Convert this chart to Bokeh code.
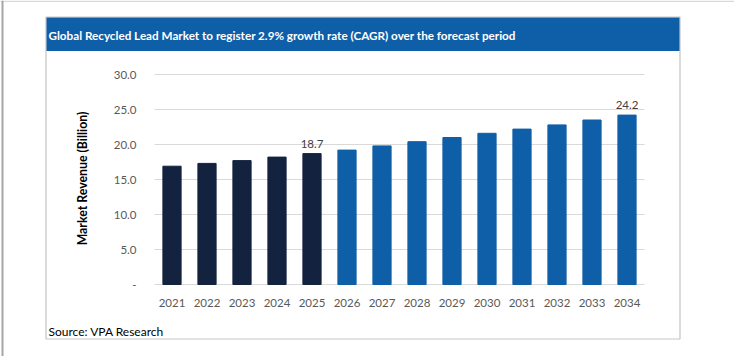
from bokeh.plotting import figure
from bokeh.models import (Range1d, ColumnDataSource, LabelSet, Label,
                          BoxAnnotation, FixedTicker)
from bokeh.core.properties import value
from bokeh.embed import file_html
from bokeh.resources import INLINE

years = ["2021", "2022", "2023", "2024", "2025", "2026", "2027",
         "2028", "2029", "2030", "2031", "2032", "2033", "2034"]
revenue = [16.9, 17.3, 17.7, 18.2, 18.7, 19.2, 19.8,
           20.4, 21.0, 21.6, 22.2, 22.8, 23.5, 24.2]
labelled_years = ["2025", "2034"]
y_ticks = [0, 5, 10, 15, 20, 25, 30]
y_tick_labels = ["-", "5.0", "10.0", "15.0", "20.0", "25.0", "30.0"]
title_text = "Global Recycled Lead Market to register 2.9% growth rate (CAGR) over the forecast period"
source_text = "Source: VPA Research"
y_label = "Market Revenue (Billion)"

DARK = "#13233F"
BLUE = "#0F5EA8"
FONT = "Lato"

W, H = 734, 356
# plot-area geometry in pixels (from top-left)
PL, PR, PT, PB = 154, 644, 74, 284
n = len(years)
step = (PR - PL) / n
ymax = y_ticks[-1]
ppu = (PB - PT) / ymax

idx = list(range(n))
colors = [DARK if int(y) <= 2025 else BLUE for y in years]
labels = [f"{v:.1f}" if y in labelled_years else "" for y, v in zip(years, revenue)]
src = ColumnDataSource(dict(x=idx, value=revenue, color=colors, label=labels))

x_range = Range1d(-0.5 - PL / step, -0.5 + (W - PL) / step)
y_range = Range1d(-(H - PB) / ppu, ymax + PT / ppu)

p = figure(width=W, height=H, x_range=x_range, y_range=y_range,
           output_backend="svg", toolbar_location=None,
           min_border=0, min_border_left=0, min_border_right=0,
           min_border_top=0, min_border_bottom=0,
           background_fill_color="white", border_fill_color="white",
           outline_line_color=None)
p.extra_x_ranges = {"px": Range1d(0, W)}
p.extra_y_ranges = {"px": Range1d(H, 0)}

p.xgrid.grid_line_color = None
p.ygrid.grid_line_color = None

# grid lines across the plot area, one per y tick
p.segment(x0=[-0.5] * len(y_ticks), x1=[n - 0.5] * len(y_ticks),
          y0=y_ticks, y1=y_ticks, line_color="#D9D9D9", line_width=1)

p.vbar(x="x", top="value", width=0.52, color="color", source=src)

p.add_layout(LabelSet(x="x", y="value", text="label", source=src,
                      text_align="center", text_baseline="bottom", y_offset=6,
                      text_font=value(FONT), text_font_size="11.5px",
                      text_color="#404040"))

p.yaxis.ticker = FixedTicker(ticks=y_ticks)
p.yaxis.major_label_overrides = {t: s for t, s in zip(y_ticks, y_tick_labels)}
p.xaxis.ticker = FixedTicker(ticks=idx)
p.xaxis.major_label_overrides = {i: y for i, y in zip(idx, years)}
p.yaxis.fixed_location = -0.5
p.xaxis.fixed_location = 0
for ax in (p.xaxis, p.yaxis):
    ax.axis_line_color = None
    ax.major_tick_line_color = None
    ax.minor_tick_line_color = None
    ax.major_label_text_font = FONT
    ax.major_label_text_font_size = "11.5px"
    ax.major_label_text_color = "#595959"
p.yaxis.major_label_standoff = 12
p.xaxis.major_label_standoff = 8
p.yaxis.axis_label = y_label
p.yaxis.axis_label_text_font = FONT
p.yaxis.axis_label_text_font_size = "12.3px"
p.yaxis.axis_label_text_font_style = "bold"
p.yaxis.axis_label_text_color = "#000000"
p.yaxis.axis_label_standoff = 21

px = dict(x_range_name="px", y_range_name="px")

# page edge lines
p.add_layout(BoxAnnotation(left=0, right=W, top=0, bottom=1.5, fill_color="#DADADA",
                           fill_alpha=1, line_color=None, **px))
p.add_layout(BoxAnnotation(left=1, right=3, top=0, bottom=H, fill_color="#A6A6A6",
                           fill_alpha=1, line_color=None, **px))
# outer chart box
p.add_layout(BoxAnnotation(left=45.5, right=679.5, top=16.5, bottom=338.5,
                           fill_color=None, fill_alpha=0, line_color="#3A3A3A",
                           line_width=1.2, **px))
# title bar
p.add_layout(BoxAnnotation(left=46, right=679, top=17, bottom=50.5, fill_color=BLUE,
                           fill_alpha=1, line_color=None, **px))
p.add_layout(Label(x=48, y=34.5, text=title_text, text_color="white", text_font=FONT,
                   text_font_size="11.7px", text_font_style="bold",
                   text_baseline="middle", text_align="left", **px))
p.add_layout(Label(x=48, y=331, text=source_text, text_color="#000000",
                   text_font=FONT, text_font_size="12px",
                   text_baseline="middle", text_align="left", **px))

open("out.html", "w").write(file_html(p, INLINE))
